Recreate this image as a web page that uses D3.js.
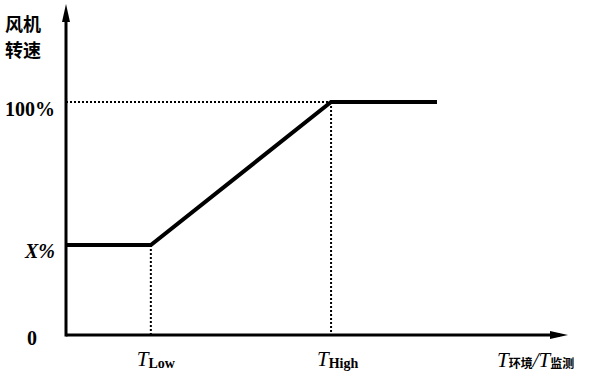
<!DOCTYPE html>
<html><head><meta charset="utf-8">
<script src="https://cdn.jsdelivr.net/npm/d3@7"></script>
<style>body{margin:0;background:#fff}svg{display:block}</style>
</head><body>
<script>
// Data
const tempKeys = ["start", "TLow", "THigh", "end"];
const tempValues = [0, 16.9, 52.8, 73.9];
const speedValues = [38.6, 38.6, 100, 100];
const yTickLabels = ["0", "X%", "100%"];
const yTickValues = [0, 38.6, 100];

const W = 592, H = 378;
const svg = d3.select("body").append("svg").attr("width", W).attr("height", H);
const x = d3.scaleLinear().domain([0, 100]).range([66, 568]);
const y = d3.scaleLinear().domain([0, 100]).range([335, 102]);

const serif = "'Liberation Serif','DejaVu Serif',serif";
const cjk = "'Noto Sans CJK SC',sans-serif";

// dotted guides
const guides = [
  {x1: x(0), y1: y(100), x2: x(tempValues[2]), y2: y(100)},
  {x1: x(tempValues[1]), y1: y(speedValues[1]), x2: x(tempValues[1]), y2: y(0)},
  {x1: x(tempValues[2]), y1: y(100), x2: x(tempValues[2]), y2: y(0)}
];
svg.selectAll("line.g").data(guides).enter().append("line")
  .attr("x1", d => d.x1).attr("y1", d => d.y1).attr("x2", d => d.x2).attr("y2", d => d.y2)
  .attr("stroke", "#000").attr("stroke-width", 2).attr("stroke-dasharray", "2,2");

// axes
svg.append("line").attr("x1", x(0)).attr("y1", y(0)).attr("x2", x(100) - 8).attr("y2", y(0))
  .attr("stroke", "#000").attr("stroke-width", 3);
svg.append("line").attr("x1", x(0)).attr("y1", y(0) + 1.5).attr("x2", x(0)).attr("y2", 14)
  .attr("stroke", "#000").attr("stroke-width", 3);
// arrows
svg.append("path").attr("d", `M${x(100)},${y(0)} L${x(100)-18},${y(0)-4} L${x(100)-18},${y(0)+4} Z`).attr("fill", "#000");
svg.append("path").attr("d", `M${x(0)},4 L${x(0)-4},22 L${x(0)+4},22 Z`).attr("fill", "#000");

// curve
const line = d3.line().x((d, i) => x(tempValues[i])).y(d => y(d));
svg.append("path").datum(speedValues).attr("d", line)
  .attr("fill", "none").attr("stroke", "#000").attr("stroke-width", 4).attr("stroke-linejoin", "miter");

// y labels
svg.append("text").attr("x", 5).attr("y", 31).text("风机").attr("font-family", cjk).attr("font-weight", 700).attr("font-size", 18);
svg.append("text").attr("x", 5).attr("y", 57).text("转速").attr("font-family", cjk).attr("font-weight", 700).attr("font-size", 18);

const yOff = [10, 13, 14];
svg.selectAll("text.yt").data(yTickValues).enter().append("text")
  .attr("y", (d, i) => y(d) + yOff[i])
  .attr("text-anchor", "end")
  .attr("font-family", serif).attr("font-weight", 700).attr("font-size", 20)
  .attr("font-style", (d, i) => i === 1 ? "italic" : "normal")
  .text((d, i) => yTickLabels[i])
  .attr("x", (d, i) => i === 0 ? 37 : 55);

// x labels
function tlabel(cx, sub, subFont, subSize) {
  const t = svg.append("text").attr("x", cx).attr("y", 366).attr("font-family", serif).attr("font-size", 21).attr("font-style", "italic");
  t.append("tspan").text("T");
  t.append("tspan").attr("font-style", "normal").attr("font-family", subFont).attr("font-size", subSize).attr("font-weight", 700).attr("dy", 2).text(sub);
  return t;
}
tlabel(x(tempValues[1]) - 14, "Low", serif, 14);
tlabel(x(tempValues[2]) - 14, "High", serif, 14);
const t3 = svg.append("text").attr("x", 497).attr("y", 367).attr("font-family", serif).attr("font-size", 21).attr("font-style", "italic");
t3.append("tspan").text("T");
t3.append("tspan").attr("font-style", "normal").attr("font-family", cjk).attr("font-size", 12).attr("font-weight", 700).attr("dy", 1).text("环境");
t3.append("tspan").attr("dy", -1).text("/T");
t3.append("tspan").attr("font-style", "normal").attr("font-family", cjk).attr("font-size", 12).attr("font-weight", 700).attr("dy", 1).text("监测");
</script>
</body></html>
